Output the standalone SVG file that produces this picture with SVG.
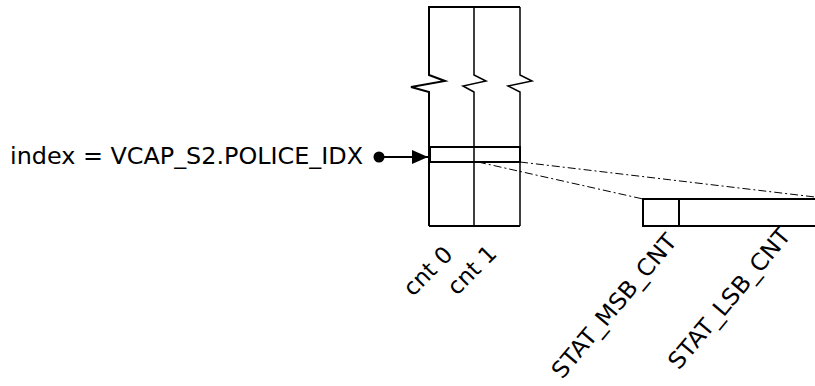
<svg xmlns="http://www.w3.org/2000/svg" width="815" height="386" viewBox="0 0 815 386">
<defs>
<style>
.t{font-family:"DejaVu Sans","Verdana",sans-serif;font-size:23px;fill:#000}
.ln{fill:none;stroke:#000;stroke-width:1.5}
.th{fill:none;stroke:#000;stroke-width:2}
.dd{fill:none;stroke:#000;stroke-width:1;stroke-dasharray:8 3 2 3}
</style>
<marker id="ah" viewBox="0 0 16 14" refX="16" refY="7" markerWidth="16" markerHeight="14" markerUnits="userSpaceOnUse" orient="auto"><path d="M0,0 L16,7 L0,14 Z" fill="#000"/></marker>
</defs>
<rect width="815" height="386" fill="#fff"/>
<g id="memory">
<path class="th" d="M429,226 L429,92 L411,87 L445,81 L429,75 L429,7 L520,7"/>
<path class="ln" d="M474,7 L474,75 L486,81 L463,86 L474,92 L474,226"/>
<path class="ln" d="M520,7 L520,75 L532,81 L508,86 L520,92 L520,226"/>
<line class="th" x1="429" y1="226" x2="520" y2="226"/>
<rect class="th" x="430" y="147" width="90" height="15"/>
</g>
<g id="stat">
<path class="th" d="M816,199 L643,199 L643,226 L816,226"/>
<line class="th" x1="679" y1="199" x2="679" y2="226"/>
</g>
<g id="connectors">
<line class="dd" x1="520" y1="162" x2="815" y2="197"/>
<line class="dd" x1="478" y1="162" x2="643" y2="199"/>
<circle cx="379" cy="157" r="5.5" fill="#000"/>
<line x1="379" y1="157" x2="428" y2="157" stroke="#000" stroke-width="2" marker-end="url(#ah)"/>
</g>
<g id="labels">
<text class="t" x="10" y="164" textLength="353" lengthAdjust="spacingAndGlyphs">index = VCAP_S2.POLICE_IDX</text>
<text class="t" text-anchor="end" transform="translate(454,256) rotate(-45)">cnt 0</text>
<text class="t" text-anchor="end" transform="translate(498,255) rotate(-45)">cnt 1</text>
<text class="t" text-anchor="end" transform="translate(678,242) rotate(-50)" textLength="180" lengthAdjust="spacingAndGlyphs">STAT_MSB_CNT</text>
<text class="t" text-anchor="end" transform="translate(792,236) rotate(-50)" textLength="176" lengthAdjust="spacingAndGlyphs">STAT_LSB_CNT</text>
</g>
</svg>
